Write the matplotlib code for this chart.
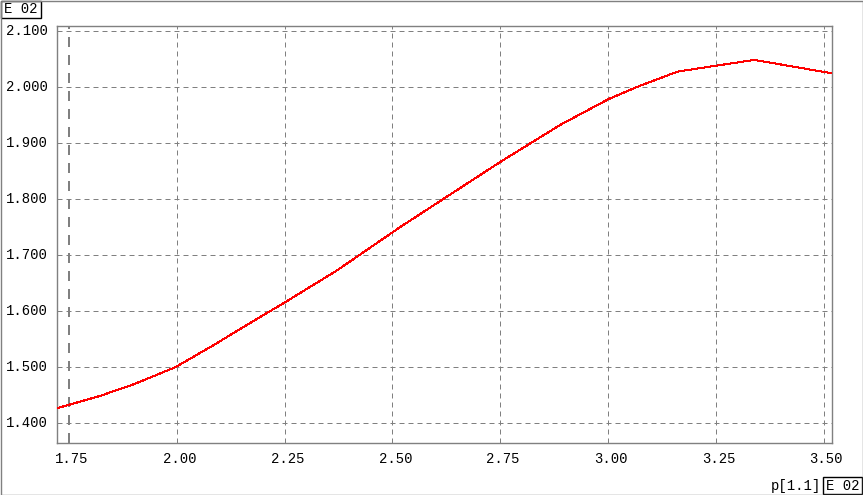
import matplotlib
matplotlib.use("Agg")
import matplotlib.pyplot as plt
from matplotlib.patches import Rectangle

# values (axis units are E 02)
p = [1.722, 1.822, 1.901, 1.996, 2.082, 2.170, 2.249, 2.372, 2.518, 2.618,
     2.750, 2.889, 3.001, 3.068, 3.161, 3.237, 3.339, 3.520]
val = [1.427, 1.449, 1.470, 1.500, 1.538, 1.579, 1.615, 1.673, 1.750, 1.800,
       1.866, 1.932, 1.978, 2.000, 2.027, 2.036, 2.048, 2.024]

xticks = [1.75, 2.00, 2.25, 2.50, 2.75, 3.00, 3.25, 3.50]
yticks = [1.4, 1.5, 1.6, 1.7, 1.8, 1.9, 2.0, 2.1]

W, H = 863, 495
fig = plt.figure(figsize=(W / 100, H / 100), dpi=100)
font = "Liberation Mono"
fs = 10
px = 0.72  # one pixel in points

# plot area in pixels: x 57..832, y 26..443
ax = fig.add_axes([57 / W, 1 - 443 / H, (832 - 57) / W, (443 - 26) / H])
ax.set_xlim(1.722, 3.5195)
ax.set_ylim(1.365, 2.1084)

grid = "#808080"
for x in xticks:
    lw = 2 * px if x == 1.75 else px
    ax.axvline(x, color=grid, lw=lw, ls=(0, (5, 4)), zorder=1)
for y in yticks:
    ax.axhline(y, color=grid, lw=px, ls=(0, (5, 4)), zorder=1)

ax.plot(p, val, color="red", lw=px, zorder=3, antialiased=False)

for s in ax.spines.values():
    s.set_color(grid)
    s.set_linewidth(px * 1.4)
ax.set_xticks([])
ax.set_yticks([])

# tick labels
for x in xticks:
    fig.text((69 + (x - 1.75) / 0.25 * 107.76 + 3) / W, 1 - 459 / H, f"{x:.2f}",
             ha="center", va="center", family=font, fontsize=fs)
for y in yticks:
    fig.text(48 / W, 1 - (423.3 - (y - 1.4) / 0.1 * 56.1) / H, f"{y:.3f}",
             ha="right", va="center", family=font, fontsize=fs)

# exponent boxes and axis name
fig.patches.append(Rectangle((1 / W, 1 - 18 / H), 40 / W, 17 / H,
                             transform=fig.transFigure, fill=False,
                             edgecolor="black", lw=px * 1.4))
fig.text(21 / W, 1 - 9 / H, "E 02", ha="center", va="center",
         family=font, fontsize=fs)
fig.patches.append(Rectangle((823 / W, 1 / H), 39 / W, 17 / H,
                             transform=fig.transFigure, fill=False,
                             edgecolor="black", lw=px * 1.4))
fig.text(843 / W, 1 - 486 / H, "E 02", ha="center", va="center",
         family=font, fontsize=fs)
fig.text(796 / W, 1 - 486 / H, "p[1.1]", ha="center", va="center",
         family=font, fontsize=fs)

# window border
fig.patches.append(Rectangle((0.5 / W, 0.5 / H), (W - 1) / W, (H - 1) / H,
                             transform=fig.transFigure, fill=False,
                             edgecolor=grid, lw=px * 1.4))

fig.savefig("out.png", dpi=100)
